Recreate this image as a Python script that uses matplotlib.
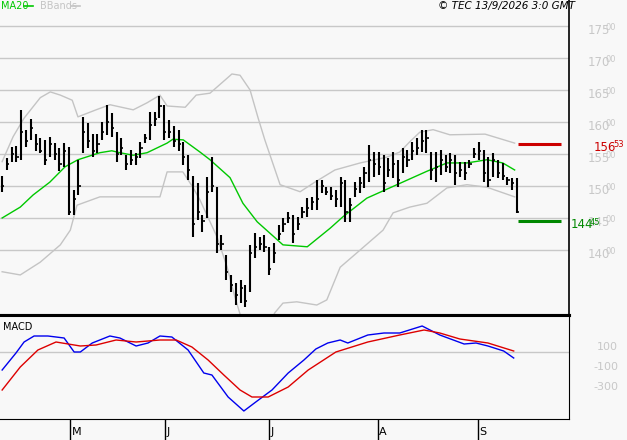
import numpy as np
import matplotlib
matplotlib.use("Agg")
import matplotlib.pyplot as plt
from matplotlib.transforms import blended_transform_factory

# daily bars
highs = [151.6, 154.3, 156.1, 156.3, 161.8, 158.8, 160.4, 158.2, 157.5, 157.2,
         157.7, 156.7, 155.9, 156.7, 156.1, 149.4, 154.1, 160.8, 159.8, 158.2,
         158.2, 160.0, 162.7, 161.4, 158.5, 157.5, 154.8, 155.6, 155.1, 156.9,
         158.2, 161.6, 161.6, 164.0, 162.7, 160.3, 159.3, 158.8, 156.9, 154.8,
         151.6, 150.5, 145.5, 151.4, 154.5, 149.8, 142.3, 139.2, 136.1, 134.8,
         135.3, 134.5, 140.8, 142.7, 142.0, 142.3, 140.5, 141.1, 143.9, 145.0,
         145.9, 145.5, 145.2, 146.7, 148.1, 148.3, 150.9, 150.9, 149.8, 149.8,
         149.4, 151.4, 150.9, 148.1, 150.6, 151.4, 153.0, 156.4, 155.3, 155.3,
         154.8, 154.4, 155.3, 154.1, 155.9, 155.6, 156.9, 157.5, 158.8, 158.8,
         155.3, 155.3, 155.6, 154.8, 155.2, 154.8, 153.8, 153.8, 154.1, 155.9,
         156.9, 155.6, 154.5, 155.2, 154.1, 153.6, 151.4, 151.3, 151.3]
lows = [149.1, 152.5, 153.8, 153.8, 154.0, 156.1, 157.2, 155.4, 155.1, 153.3,
        154.6, 154.0, 152.4, 153.0, 145.5, 145.5, 148.6, 155.1, 155.9, 154.6,
        155.1, 157.2, 158.0, 157.7, 153.8, 154.8, 152.5, 153.3, 153.3, 154.3,
        156.7, 157.2, 159.3, 160.6, 157.2, 157.5, 156.1, 155.4, 153.3, 150.9,
        142.0, 144.7, 142.8, 145.0, 149.1, 139.5, 140.0, 135.3, 133.4, 131.4,
        131.7, 131.1, 133.4, 138.8, 140.0, 139.7, 136.1, 138.0, 141.6, 142.8,
        144.2, 141.1, 143.1, 145.0, 145.2, 146.3, 146.3, 148.9, 148.6, 147.8,
        146.7, 146.7, 144.4, 144.4, 148.3, 148.9, 149.7, 150.6, 151.4, 151.7,
        149.1, 151.4, 151.3, 149.8, 152.0, 153.0, 154.1, 154.8, 155.3, 155.2,
        150.9, 150.6, 151.7, 152.2, 152.0, 150.2, 151.4, 150.9, 152.8, 154.4,
        154.1, 150.6, 149.8, 151.4, 151.3, 150.9, 150.2, 149.4, 145.8]
closes = [150.0, 153.5, 155.0, 154.5, 158.5, 157.0, 159.0, 156.5, 155.5, 154.0,
          156.5, 155.0, 153.5, 155.5, 146.0, 148.0, 150.0, 158.5, 157.0, 155.5,
          156.5, 158.5, 160.0, 159.0, 155.0, 156.0, 153.5, 154.0, 154.5, 156.0,
          157.5, 159.5, 160.5, 162.5, 158.5, 158.5, 157.0, 156.5, 154.5, 152.5,
          144.0, 146.0, 144.5, 149.0, 150.0, 141.0, 141.0, 136.5, 134.5, 133.0,
          134.0, 132.0, 139.5, 140.5, 141.0, 140.5, 137.0, 139.5, 142.5, 144.0,
          145.0, 142.5, 144.0, 146.0, 146.5, 147.5, 148.0, 150.0, 149.0, 148.5,
          148.0, 150.5, 146.0, 147.0, 149.5, 150.5, 152.0, 154.0, 153.5, 153.0,
          150.5, 152.5, 153.5, 151.0, 154.5, 154.0, 155.5, 156.0, 157.0, 157.5,
          152.5, 153.0, 154.0, 153.0, 154.0, 152.0, 152.5, 152.0, 153.5, 155.0,
          155.5, 152.0, 151.0, 154.0, 152.0, 151.5, 151.0, 150.5, 146.0]

ma_x = [0, 3.8, 6.5, 10, 13.2, 15.9, 20.5, 23, 24.7, 27.5, 30.4, 34.6, 35.8, 38, 41.5,
        43.6, 47.8, 50.5, 53.5, 57.7, 58.9, 64, 68.8, 71.5, 76.5, 82.8, 89.1, 93.3,
        97.5, 101.7, 105, 107.5]
ma_y = [145.0, 146.7, 148.6, 150.6, 153.0, 154.1, 155.2, 155.5, 155.2, 154.8, 155.2,
        156.7, 157.3, 157.2, 155.3, 154.1, 151.3, 147.3, 144.4, 141.6, 140.8, 140.5,
        143.4, 145.2, 148.1, 150.2, 152.3, 153.6, 153.6, 154.1, 153.6, 152.5]
up_x = [0, 2.3, 4.6, 8.0, 10.1, 12.2, 14.7, 15.9, 19.7, 22.6, 27.5, 30.4, 33.1, 34.6,
        38.4, 40.7, 43.6, 48.2, 49.9, 52.0, 53.7, 55.1, 58.3, 62.5, 65.6, 69.8, 75.1,
        80.7, 83.4, 85.5, 87.6, 90.4, 93.9, 101.3, 107.5]
up_y = [153.8, 157.7, 160.6, 163.8, 164.7, 164.2, 163.4, 160.8, 161.9, 162.7, 161.9,
        163.0, 164.2, 162.5, 162.3, 164.2, 164.5, 167.5, 167.3, 165.0, 160.6, 157.2,
        150.2, 149.1, 150.6, 152.5, 153.6, 154.5, 155.3, 156.9, 158.4, 158.8, 158.0,
        158.1, 156.7]
lo_x = [0, 3.8, 8.0, 12.2, 14.3, 15.7, 20.5, 33.1, 34.6, 37.9, 40.0, 41.5, 45.1, 47.2,
        48.8, 50.9, 54.5, 57.2, 58.9, 61.8, 66.0, 68.1, 70.9, 75.1, 79.9, 82.0, 85.5,
        89.1, 93.3, 97.5, 101.7, 107.5]
lo_y = [136.6, 136.1, 138.1, 140.8, 143.1, 147.0, 148.3, 148.3, 152.2, 152.2, 149.8,
        147.8, 142.0, 137.3, 132.7, 127.5, 126.0, 130.2, 131.7, 131.9, 131.4, 132.2,
        137.3, 140.0, 143.1, 145.8, 146.7, 147.3, 149.7, 150.2, 149.8, 148.3]

macd_x = [0, 2.9, 4.6, 6.7, 9.6, 13, 15.1, 16.4, 18.9, 22.6, 24.7, 28.1, 30.6, 33.1,
          35.6, 39, 42.3, 44, 47.4, 50.7, 53.2, 56.6, 60, 63.3, 65.8, 68.3, 70.9, 72.5,
          76.7, 80.1, 83.4, 88.1, 91.8, 96.9, 99.4, 101.9, 105.2, 107.3]
macd_y = [-80, 90, 200, 260, 260, 240, 100, 100, 190, 260, 240, 160, 190, 260, 250,
          120, -110, -130, -350, -490, -400, -280, -110, 20, 130, 190, 220, 190, 270,
          290, 290, 360, 270, 180, 190, 160, 110, 40]
sig_x = [0, 3.8, 7.5, 11.3, 16.4, 19.7, 23.9, 28.1, 33.1, 36.5, 39.8, 43.2, 46.5, 49.9,
         52.4, 55.8, 60, 64.2, 70, 76.7, 83.4, 88.5, 91.8, 96, 101.9, 107.3]
sig_y = [-280, -50, 120, 200, 160, 170, 220, 200, 220, 220, 150, 20, -130, -280, -350,
         -350, -250, -80, 100, 200, 270, 320, 290, 230, 190, 110]

price_ticks = [140, 145, 150, 155, 160, 165, 170, 175]
macd_ticks = [100, -100, -300]
months = ["M", "J", "J", "A", "S"]
month_pos = [14.3, 34.2, 56.0, 78.8, 99.8]
res_level, sup_level = 156.53, 144.45

BG = "#f8f8f8"
GRID = "#c8c8c8"
fig = plt.figure(figsize=(6.27, 4.40), dpi=100, facecolor=BG)
W, H = 627, 440
ax = fig.add_axes([0, 1 - 315 / H, 569 / W, 315 / H], facecolor=BG)
ax2 = fig.add_axes([0, 1 - 419 / H, 569 / W, 104 / H], facecolor=BG)
xlim = (-0.45, 118.9)

# price panel
idx = np.arange(len(closes))
for p in price_ticks:
    ax.axhline(p, color=GRID, lw=1, zorder=0)
ax.plot(up_x, up_y, color="#c4c4c4", lw=1)
ax.plot(lo_x, lo_y, color="#c4c4c4", lw=1)
ax.plot(ma_x, ma_y, color="#00c800", lw=1)
ax.vlines(idx, lows, highs, color="black", lw=1.5)
ax.hlines(closes, idx, idx + 0.45, color="black", lw=1.2)
ax.hlines(res_level, 108.3, 117.3, color="#cc0000", lw=2.2)
ax.hlines(sup_level, 108.3, 117.3, color="#008800", lw=2.2)
ax.set_xlim(*xlim)
ax.set_ylim(129.84, 179.06)
ax.set_xticks([])
ax.set_yticks([])
for s in ["left", "top"]:
    ax.spines[s].set_visible(False)
ax.spines["right"].set_linewidth(1.2)
ax.spines["bottom"].set_linewidth(2.2)

tr = blended_transform_factory(fig.transFigure, ax.transData)
for p in price_ticks:
    ax.text(588 / W, p - 0.7, f"{p}", transform=tr, color=GRID, fontsize=8.5,
            va="center", ha="left", clip_on=False)
    ax.text(606 / W, p - 0.3, "00", transform=tr, color=GRID, fontsize=6,
            va="center", ha="left", clip_on=False)
ax.text(594 / W, res_level - 0.5, "156", transform=tr, color="#cc0000", fontsize=8.5,
        va="center", ha="left")
ax.text(613 / W, res_level - 0.1, "53", transform=tr, color="#cc0000", fontsize=6,
        va="center", ha="left")
ax.text(571 / W, sup_level - 0.5, "144", transform=tr, color="#008800", fontsize=8.5,
        va="center", ha="left")
ax.text(590 / W, sup_level - 0.1, "45", transform=tr, color="#008800", fontsize=6,
        va="center", ha="left")

fig.text(1 / W, 1 - 6 / H, "MA20", color="#00c800", fontsize=7, va="center")
fig.add_artist(plt.Line2D([24 / W, 33 / W], [1 - 6 / H] * 2, color="#00c800", lw=1.2))
fig.text(40 / W, 1 - 6 / H, "BBands", color="#c4c4c4", fontsize=7, va="center")
fig.add_artist(plt.Line2D([71 / W, 80 / W], [1 - 6 / H] * 2, color="#c4c4c4", lw=1.2))
fig.text(575 / W, 1 - 6 / H, "\u00a9 TEC 13/9/2026 3:0 GMT", color="black",
         fontsize=7.5, style="italic", ha="right", va="center")

# MACD panel
ax2.axhline(100, color=GRID, lw=1, zorder=0)
ax2.plot(macd_x, macd_y, color="#0000ee", lw=1)
ax2.plot(sig_x, sig_y, color="#dd0000", lw=1)
ax2.set_xlim(*xlim)
ax2.set_ylim(-570, 470)
ax2.set_yticks([])
ax2.spines["left"].set_visible(False)
ax2.spines["top"].set_linewidth(2.2)
ax2.set_xticks(month_pos)
ax2.set_xticklabels([])
ax2.tick_params(axis="x", length=18, width=1, color="black")
tr2 = blended_transform_factory(ax2.transData, fig.transFigure)
for m, pos in zip(months, month_pos):
    ax2.text(pos + 0.3, 1 - 432 / H, m, transform=tr2, fontsize=8, ha="left", va="center")
tr3 = blended_transform_factory(fig.transFigure, ax2.transData)
for v in macd_ticks:
    ax2.text(618 / W, v + 50, str(v), transform=tr3, color=GRID, fontsize=8,
             ha="right", va="center")
ax2.text(0.005, 0.88, "MACD", transform=ax2.transAxes, fontsize=7, va="center")

fig.savefig("out.png", dpi=100, facecolor=BG)
